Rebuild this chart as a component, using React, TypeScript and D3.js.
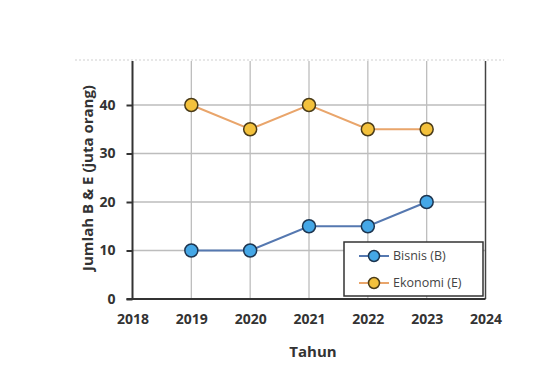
import React, { useEffect, useRef } from 'react';
import * as d3 from 'd3';

const years = [2019, 2020, 2021, 2022, 2023];
const bisnis = [10, 10, 15, 15, 20];
const ekonomi = [40, 35, 40, 35, 35];
const xTicks = [2018, 2019, 2020, 2021, 2022, 2023, 2024];
const yTicks = [0, 10, 20, 30, 40];

const width = 555;
const height = 386;

export default function App() {
    const ref = useRef<SVGSVGElement>(null);

    useEffect(() => {
        const svg = d3.select(ref.current);
        svg.selectAll('*').remove();

        const left = 132.5;
        const right = 485.5;
        const top = 61;
        const bottom = 299;

        const x = d3.scaleLinear().domain([2018, 2024]).range([left, right]);
        const y = d3.scaleLinear().domain([0, 40]).range([bottom, 105]);

        const font = "'Open Sans', 'DejaVu Sans', sans-serif";

        // dotted top border of chart area
        svg.append('line')
            .attr('x1', 75).attr('x2', 504)
            .attr('y1', 60).attr('y2', 60)
            .attr('stroke', '#cfcfcf')
            .attr('stroke-dasharray', '2,2');

        // grid
        svg.append('g')
            .selectAll('line')
            .data(yTicks.filter(t => t > 0))
            .join('line')
            .attr('x1', left).attr('x2', right)
            .attr('y1', d => y(d)).attr('y2', d => y(d))
            .attr('stroke', '#bdbdbd').attr('stroke-width', 1.3);
        svg.append('g')
            .selectAll('line')
            .data(xTicks.slice(1, -1))
            .join('line')
            .attr('x1', d => x(d)).attr('x2', d => x(d))
            .attr('y1', top).attr('y2', bottom)
            .attr('stroke', '#bdbdbd').attr('stroke-width', 1.3);

        // right border
        svg.append('line')
            .attr('x1', right).attr('x2', right)
            .attr('y1', top).attr('y2', bottom)
            .attr('stroke', '#444').attr('stroke-width', 1.5);

        // axes
        const yAxis = svg.append('g')
            .attr('transform', `translate(${left},0)`)
            .call(d3.axisLeft(y).tickValues(yTicks).tickSize(6).tickPadding(11));
        yAxis.select('.domain').remove();
        yAxis.append('line')
            .attr('x1', 0).attr('x2', 0).attr('y1', top).attr('y2', bottom)
            .attr('stroke', '#333').attr('stroke-width', 2);
        yAxis.selectAll('.tick line').attr('stroke', '#333').attr('stroke-width', 2);
        yAxis.selectAll('.tick text')
            .attr('font-family', font).attr('font-weight', 'bold')
            .attr('font-size', 14).attr('fill', '#333');

        const xAxis = svg.append('g')
            .attr('transform', `translate(0,${bottom})`)
            .call(d3.axisBottom(x).tickValues(xTicks).tickFormat(d3.format('d')).tickSize(0).tickPadding(15));
        xAxis.select('.domain').remove();
        xAxis.append('line')
            .attr('x1', left - 6).attr('x2', right).attr('y1', 0).attr('y2', 0)
            .attr('stroke', '#333').attr('stroke-width', 2);
        xAxis.selectAll('.tick text')
            .attr('font-family', font).attr('font-weight', 'bold')
            .attr('font-size', 14).attr('fill', '#333');

        // axis titles
        svg.append('text')
            .attr('x', 313).attr('y', 357)
            .attr('text-anchor', 'middle')
            .attr('font-family', font).attr('font-weight', 'bold')
            .attr('font-size', 15).attr('fill', '#333')
            .text('Tahun');
        svg.append('text')
            .attr('transform', 'translate(93,178) rotate(-90)')
            .attr('text-anchor', 'middle')
            .attr('font-family', font).attr('font-weight', 'bold')
            .attr('font-size', 15).attr('fill', '#333')
            .text('Jumlah B & E (juta orang)');

        const line = d3.line<number>()
            .x((_d, i) => x(years[i]))
            .y(d => y(d));

        const series = [
            { values: ekonomi, line: '#e9a56b', fill: '#f3c13c', stroke: '#4a3b18' },
            { values: bisnis, line: '#5578b0', fill: '#45a7e6', stroke: '#1d3550' },
        ];

        series.forEach(s => {
            svg.append('path')
                .attr('d', line(s.values))
                .attr('fill', 'none')
                .attr('stroke', s.line)
                .attr('stroke-width', 2);
            svg.append('g')
                .selectAll('circle')
                .data(s.values)
                .join('circle')
                .attr('cx', (_d, i) => x(years[i]))
                .attr('cy', d => y(d))
                .attr('r', 6.5)
                .attr('fill', s.fill)
                .attr('stroke', s.stroke)
                .attr('stroke-width', 1.5);
        });

        // legend
        const lg = svg.append('g').attr('transform', 'translate(344,242)');
        lg.append('rect')
            .attr('width', 139).attr('height', 54)
            .attr('fill', '#fff').attr('stroke', '#333').attr('stroke-width', 1.5);
        const items = [
            { label: 'Bisnis (B)', s: series[1], y: 14 },
            { label: 'Ekonomi (E)', s: series[0], y: 41 },
        ];
        items.forEach(it => {
            lg.append('line')
                .attr('x1', 15).attr('x2', 45).attr('y1', it.y).attr('y2', it.y)
                .attr('stroke', it.s.line).attr('stroke-width', 2);
            lg.append('circle')
                .attr('cx', 30).attr('cy', it.y).attr('r', 5.5)
                .attr('fill', it.s.fill).attr('stroke', it.s.stroke).attr('stroke-width', 1.5);
            lg.append('text')
                .attr('x', 49).attr('y', it.y).attr('dy', '0.35em')
                .attr('font-family', font).attr('font-size', 12.5).attr('fill', '#444')
                .text(it.label);
        });
    }, []);

    return (
        <svg ref={ref} width={width} height={height} viewBox={`0 0 ${width} ${height}`}
            style={{ position: 'absolute', left: 0, top: 0, background: '#fff' }} />
    );
}
